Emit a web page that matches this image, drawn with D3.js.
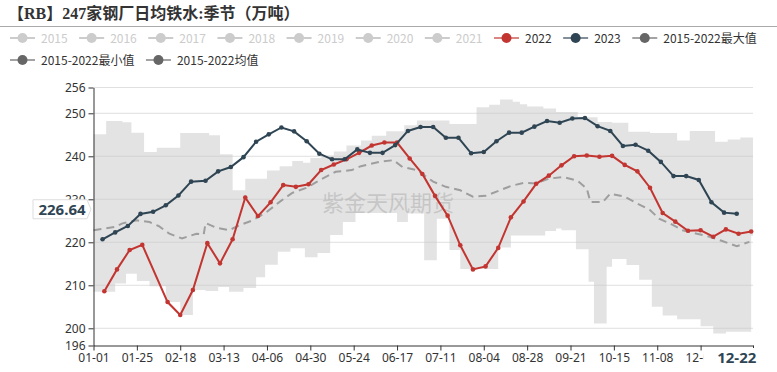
<!doctype html>
<html lang="zh">
<head>
<meta charset="utf-8">
<title>247家钢厂日均铁水:季节</title>
<script src="https://cdn.jsdelivr.net/npm/d3@7"></script>
<style>
  html, body { margin: 0; padding: 0; background: #fff; }
  svg { display: block; font-family: "Noto Sans CJK SC", "Noto Sans", sans-serif; }
</style>
</head>
<body>
<svg id="chart" width="777" height="372"></svg>
<script>
// ---- data ----
var titleText = "【RB】247家钢厂日均铁水:季节（万吨）";
var watermark = "紫金天风期货";

var xTickLabels = ["01-01","01-25","02-18","03-13","04-06","04-30","05-24","06-17",
                   "07-11","08-04","08-28","09-21","10-15","11-08","12-02"];
var yTicks = [196, 200, 210, 220, 230, 240, 250, 256];

var legendNames  = ["2015","2016","2017","2018","2019","2020","2021","2022","2023",
                    "2015-2022最大值","2015-2022最小值","2015-2022均值"];
var legendColors = ["#ccc","#ccc","#ccc","#ccc","#ccc","#ccc","#ccc","#c23531","#2f4554",
                    "#666","#666","#666"];
var legendActive = [false,false,false,false,false,false,false,true,true,true,true,true];

var dates2022 = ("01-07 01-14 01-21 01-28 02-04 02-11 02-18 02-25 03-04 03-11 03-18 03-25 " +
  "04-01 04-08 04-15 04-22 04-29 05-06 05-13 05-20 05-27 06-03 06-10 06-17 06-24 07-01 " +
  "07-08 07-15 07-22 07-29 08-05 08-12 08-19 08-26 09-02 09-09 09-16 09-23 09-30 10-07 " +
  "10-14 10-21 10-28 11-04 11-11 11-18 11-25 12-02 12-09 12-16 12-23 12-30").split(" ");
var values2022 = [208.6, 213.7, 218.2, 219.4, null, 206.1, 203.1, 208.9, 219.8, 215.1, 220.7, 230.4,
  226.1, 229.3, 233.3, 232.9, 233.5, 236.8, 238.1, 239.3, 240.8, 242.5, 243.2, 243.2, 239.5, 235.9,
  230.8, 226.2, 219.3, 213.7, 214.4, 218.7, 225.8, 229.5, 233.6, 235.5, 237.9, 240.0, 240.2, 239.9,
  240.1, 238.0, 236.5, 232.7, 226.8, 224.8, 222.7, 222.8, 221.3, 223.0, 222.0, 222.5];

var dates2023 = ("01-06 01-13 01-20 01-27 02-03 02-10 02-17 02-24 03-03 03-10 03-17 03-24 03-31 " +
  "04-07 04-14 04-21 04-28 05-05 05-12 05-19 05-26 06-02 06-09 06-16 06-23 06-30 07-07 07-14 " +
  "07-21 07-28 08-04 08-11 08-18 08-25 09-01 09-08 09-15 09-22 09-29 10-06 10-13 10-20 10-27 " +
  "11-03 11-10 11-17 11-24 12-01 12-08 12-15 12-22").split(" ");
var values2023 = [220.7, 222.3, 223.8, 226.6, 227.1, 228.6, 230.9, 234.1, 234.3, 236.5, 237.5, 239.8,
  243.4, 245.1, 246.7, 245.8, 243.5, 240.6, 239.3, 239.3, 241.6, 240.8, 240.8, 242.6, 245.9, 246.8,
  246.8, 244.3, 244.3, 240.7, 241.0, 243.5, 245.5, 245.5, 246.9, 248.2, 247.8, 248.8, 248.9, 247.0,
  245.9, 242.4, 242.7, 241.3, 238.7, 235.4, 235.4, 234.5, 229.3, 226.9, 226.64];

// 2015-2022 max / min as step values (each holds from its date to the next one)
var maxDates = ["01-01","01-08","01-17","01-22","01-29","02-05","02-18","03-05","03-11","03-18",
  "03-25","04-06","04-13","04-20","04-26","04-30","05-06","05-13","05-20","05-28","06-03","06-11",
  "06-21","06-28","07-16","07-31","08-07","08-13","08-20","08-24","08-28","09-06","09-13","09-25",
  "10-06","10-14","10-23","11-04","11-19","11-26","12-10","12-17","12-24"];
var maxValues = [245.1, 248.2, 247.9, 245.5, 241.0, 242.0, 245.4, 244.9, 240.5, 232.1,
  234.8, 236.7, 237.7, 238.9, 238.5, 239.6, 240.2, 241.1, 242.5, 243.7, 244.8, 245.8,
  247.2, 248.3, 247.5, 251.4, 252.0, 253.2, 252.7, 252.1, 251.6, 251.1, 250.3, 249.1,
  248.0, 247.8, 245.7, 245.4, 243.7, 245.9, 243.4, 243.9, 244.4];

var minDates = ["01-01","01-13","01-19","01-25","02-01","02-10","02-18","02-25","03-03","03-10",
  "03-16","03-24","03-31","04-05","04-12","04-19","04-27","05-04","05-11","05-18","05-25","06-17",
  "06-23","07-02","07-09","07-16","07-22","08-12","08-19","09-07","09-13","09-16","09-24","10-01",
  "10-04","10-11","10-14","10-22","10-29","11-05","11-11","11-19","12-02","12-09","12-16","12-30"];
var minValues = [208.5, 210.4, 212.7, 211.0, 209.8, 206.1, 203.1, 208.9, 208.7, 209.6,
  208.5, 209.4, 211.9, 214.8, 217.8, 218.6, 216.5, 217.5, 221.7, 224.7, 226.8, 224.7,
  226.7, 215.8, 225.5, 218.2, 213.8, 218.8, 221.6, 222.6, 223.2, 222.8, 218.4, 210.8,
  201.1, 214.3, 216.1, 214.7, 211.3, 205.0, 203.0, 202.1, 200.5, 198.8, 199.2, 221.5];

var avgDates = ["01-01","01-13","01-17","01-25","02-01","02-06","02-12","02-19","02-27","03-02",
  "03-03","03-09","03-16","03-22","03-29","04-06","04-13","04-20","04-28","05-05","05-14","05-23",
  "05-28","06-07","06-15","06-20","06-28","07-07","07-14","07-22","07-29","08-05","08-13","08-19",
  "08-26","09-02","09-09","09-17","09-25","09-30","10-02","10-09","10-13","10-21","10-28","11-04",
  "11-09","11-15","11-22","11-30","12-07","12-14","12-22","12-29"];
var avgValues = [222.8, 223.6, 224.4, 225.1, 224.7, 223.8, 222.0, 220.9, 222.0, 221.8,
  224.5, 223.4, 222.8, 224.0, 225.1, 227.1, 229.4, 231.5, 232.7, 234.4, 236.4, 236.8,
  237.7, 238.7, 239.1, 237.5, 236.8, 234.1, 232.9, 232.1, 230.6, 230.8, 232.1, 233.1,
  233.8, 233.7, 234.8, 235.2, 234.3, 232.5, 229.4, 229.4, 231.3, 230.6, 229.0, 227.5,
  225.5, 224.4, 222.8, 222.0, 221.3, 220.3, 219.1, 220.1];

var lastDate = "12-22", lastValue = 226.64;

// ---- setup ----
var svg = d3.select("#chart");
var parse = function(s) { return new Date(2024, +s.slice(0, 2) - 1, +s.slice(3, 5)); };
var pts = function(dates, vals) {
  return dates.map(function(d, i) { return {date: parse(d), value: vals[i]}; });
};

var x = d3.scaleTime().domain([parse("01-01"), parse("12-31")]).range([93.5, 753]);
var y = d3.scaleLinear().domain([196, 256]).range([345.5, 87.5]);

// title
svg.append("text")
  .attr("x", 8).attr("y", 19)
  .style("font-family", "'Liberation Serif', 'Noto Sans CJK SC', serif")
  .style("font-size", "16px").style("font-weight", "bold").attr("fill", "#333")
  .text(titleText);
svg.append("line")
  .attr("x1", 0).attr("x2", 777).attr("y1", 26.5).attr("y2", 26.5)
  .attr("stroke", "#aaa");

// legend
var legend = svg.append("g");
var lx = 10, ly = 38;
legendNames.forEach(function(name, i) {
  var g = legend.append("g");
  var c = legendColors[i];
  g.append("line").attr("x1", 0).attr("x2", 25).attr("y1", 0).attr("y2", 0)
    .attr("stroke", c).attr("stroke-width", 2)
    .attr("stroke-opacity", legendActive[i] ? 0.6 : 1);
  g.append("circle").attr("cx", 12.5).attr("cy", 0).attr("r", 5).attr("fill", c);
  var t = g.append("text").attr("x", 31).attr("y", 4.5)
    .style("font-size", "12px").attr("fill", legendActive[i] ? "#333" : "#ccc")
    .text(name);
  var w = 31 + t.node().getComputedTextLength();
  if (lx + w > 767) { lx = 10; ly += 22; }
  g.attr("transform", "translate(" + lx + "," + ly + ")");
  lx += w + 11.5;
});

// min-max band
var upper = pts(maxDates, maxValues);
upper.push({date: parse("12-31"), value: maxValues[maxValues.length - 1]});
var lower = pts(minDates, minValues);
lower.push({date: parse("12-31"), value: minValues[minValues.length - 1]});
var stepA = d3.line().x(function(d) { return x(d.date); }).y(function(d) { return y(d.value); })
  .curve(d3.curveStepAfter);
var stepB = d3.line().x(function(d) { return x(d.date); }).y(function(d) { return y(d.value); })
  .curve(d3.curveStepBefore);
svg.append("path")
  .attr("d", stepA(upper) + "L" + stepB(lower.slice().reverse()).slice(1) + "Z")
  .attr("fill", "#e3e3e3");

// grid lines
svg.append("g").selectAll("line").data(yTicks.filter(function(v) { return v > 196; }))
  .enter().append("line")
  .attr("x1", x.range()[0]).attr("x2", x.range()[1])
  .attr("y1", function(d) { return y(d); }).attr("y2", function(d) { return y(d); })
  .attr("stroke", "#ccc").attr("stroke-opacity", 0.6);

// watermark
svg.append("text")
  .attr("x", 388).attr("y", 211).attr("text-anchor", "middle")
  .style("font-size", "22px").attr("fill", "#aaa").attr("fill-opacity", 0.5)
  .text(watermark);

// average (dashed)
var line = d3.line().x(function(d) { return x(d.date); }).y(function(d) { return y(d.value); });
svg.append("path")
  .attr("d", line(pts(avgDates, avgValues)))
  .attr("fill", "none").attr("stroke", "#9e9e9e").attr("stroke-width", 2)
  .attr("stroke-dasharray", "8,5");

// year series
function drawSeries(dates, vals, color) {
  var data = pts(dates, vals).filter(function(d) { return d.value != null; });
  svg.append("path").attr("d", line(data))
    .attr("fill", "none").attr("stroke", color).attr("stroke-width", 2);
  svg.append("g").selectAll("circle").data(data).enter().append("circle")
    .attr("cx", function(d) { return x(d.date); })
    .attr("cy", function(d) { return y(d.value); })
    .attr("r", 2.3).attr("fill", color);
}
drawSeries(dates2022, values2022, "#c23531");
drawSeries(dates2023, values2023, "#2f4554");

// axes
var yAxis = svg.append("g").attr("transform", "translate(" + x.range()[0] + ",0)")
  .call(d3.axisLeft(y).tickValues(yTicks).tickSize(5).tickSizeOuter(0).tickPadding(3));
var xAxis = svg.append("g").attr("transform", "translate(0," + y.range()[0] + ")")
  .call(d3.axisBottom(x)
    .tickValues(xTickLabels.map(parse).concat([parse("12-31")]))
    .tickFormat(function(d, i) { return xTickLabels[i] || ""; })
    .tickSize(5).tickSizeOuter(0).tickPadding(3));
[yAxis, xAxis].forEach(function(a) {
  a.select(".domain").attr("stroke", "#333");
  a.selectAll(".tick line").attr("stroke", "#333");
  a.selectAll(".tick text").attr("fill", "#333")
    .style("font-size", "12px").style("font-family", "'Noto Sans', sans-serif");
});

// pointer labels for the last 2023 value
var py = y(lastValue) - 4.5;
svg.append("path")
  .attr("d", "M33," + (py - 9.5) + "H87L91," + py + "L87," + (py + 9.5) + "H33Z")
  .attr("fill", "#fff").attr("stroke", "#ddd");
svg.append("text")
  .attr("x", 62).attr("y", py + 5.5).attr("text-anchor", "middle")
  .style("font-size", "15px").style("font-weight", "bold")
  .style("font-family", "'Noto Sans', sans-serif")
  .attr("fill", "#2f4554").text(lastValue.toFixed(2));

var px = x(parse(lastDate));
svg.append("rect")
  .attr("x", px - 33.5).attr("y", 348).attr("width", 67).attr("height", 22)
  .attr("fill", "#fff");
svg.append("text")
  .attr("x", px).attr("y", 363).attr("text-anchor", "middle")
  .style("font-size", "15px").style("font-weight", "bold")
  .style("font-family", "'Noto Sans', sans-serif")
  .attr("fill", "#2f4554").text(lastDate);
</script>
</body>
</html>
